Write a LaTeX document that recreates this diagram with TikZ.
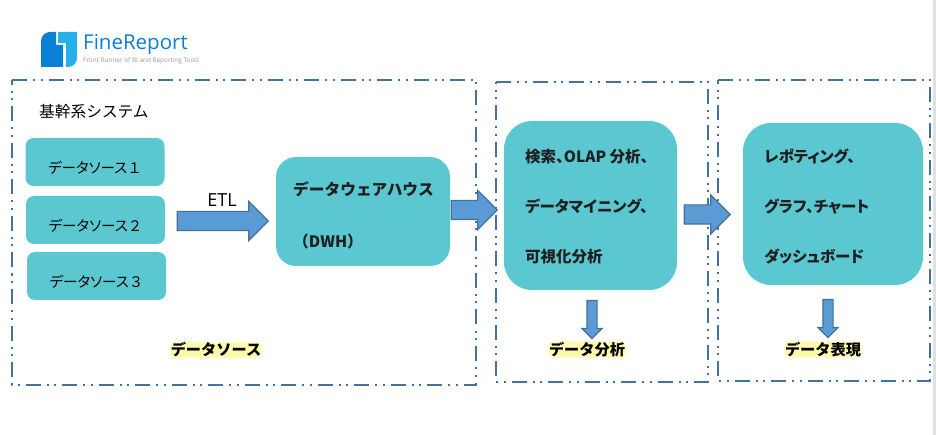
\documentclass[tikz,border=0pt]{standalone}
\usepackage{fontspec}
\setmainfont{Noto Sans CJK JP}
\newfontfamily\latinfont{Open Sans}
\newfontfamily\tightfont[RawFeature=+palt]{Noto Sans CJK JP}
\usetikzlibrary{shapes,arrows,positioning}
\definecolor{boxteal}{RGB}{91,200,209}
\definecolor{arrowblue}{RGB}{91,155,213}
\definecolor{arrowedge}{RGB}{65,113,156}
\definecolor{frameblue}{RGB}{68,114,158}
\definecolor{logodark}{RGB}{10,127,214}
\definecolor{logolight}{RGB}{37,176,234}
\definecolor{glowyellow}{RGB}{255,250,170}
\tikzset{
	areaframe/.style={draw=frameblue, line width=2pt, dash pattern=on 15pt off 6pt on 2pt off 5.5pt on 2pt off 6pt},
	srcbox/.style={fill=boxteal, rounded corners=8pt, minimum width=139pt, minimum height=48pt, inner sep=0pt, text height=24pt, text depth=0pt, font=\tightfont\fontsize{14.5}{17}\selectfont},
	bigbox/.style={fill=boxteal, rounded corners=28pt, inner sep=0pt},
	bigtext/.style={anchor=west, inner sep=0pt, align=left, text=black!88, font=\tightfont\fontsize{15.5}{50}\selectfont\bfseries},
	rightarrow/.style={shape=single arrow, draw=arrowedge, line width=1.2pt, fill=arrowblue, single arrow head extend=10pt, single arrow head indent=0pt, inner xsep=0pt, inner ysep=9pt, minimum height=46pt},
	downarrow/.style={shape=single arrow, shape border rotate=270, draw=arrowedge, line width=1.1pt, fill=arrowblue, single arrow head extend=5pt, inner xsep=0pt, inner ysep=0pt, text width=9pt, minimum height=38pt},
	arealabel/.style={fill=glowyellow, draw=glowyellow!50, line width=1.5pt, rounded corners=5pt, inner sep=0.5pt, font=\fontsize{15.2}{17}\selectfont\bfseries}
}
\begin{document}
\begin{tikzpicture}[x=1pt,y=-1pt]
	\useasboundingbox (0,0) rectangle (936,435);
	\fill[black!12] (933,0) rectangle (936,435);

	% Logo
	\fill[logodark] (41,67) [rounded corners=9pt] -- (41,32) [sharp corners] -- (56,32) -- (56,45) -- (63,45) -- (63,67) -- cycle;
	\fill[logolight] (58,32) -- (77,32) [rounded corners=9pt] -- (77,67) [sharp corners] -- (66,67) -- (66,43) -- (58,43) -- cycle;
	\node[text=logodark, anchor=west, inner sep=0pt, font=\latinfont\fontsize{20.5}{24}\selectfont] (logoname) at (83,44) {FineReport};
	\node[text=black!40, anchor=west, inner sep=0pt, font=\latinfont\fontsize{6.4}{8}\selectfont] (logotag) at (83,60.5) {Front Runner of BI and Reporting Tools};

	% Dashed areas
	\draw[areaframe] (12,80) -- (476,80) -- (476,385) -- (12,385) -- cycle;
	\draw[areaframe] (496,82) -- (708,82) -- (708,382) -- (496,382) -- cycle;
	\draw[areaframe] (718,80) -- (930,80) -- (930,381) -- (718,381) -- cycle;

	% Data sources
	\node[anchor=west, inner sep=0pt, font=\fontsize{15.7}{18}\selectfont] (kikan) at (39,112) {基幹系システム};
	\node[srcbox] (src1) at (95,162) {データソース{\rmfamily １}};
	\node[srcbox] (src2) at (95.5,220) {データソース{\rmfamily ２}};
	\node[srcbox] (src3) at (96.5,276) {データソース{\rmfamily ３}};

	% Main boxes
	\node[bigbox, rounded corners=20pt, minimum width=174pt, minimum height=109pt] (dwh) at (363,211.5) {};
	\node[bigbox, minimum width=173pt, minimum height=169pt] (analysis) at (590.5,205.5) {};
	\node[bigbox, minimum width=180pt, minimum height=162pt] (report) at (833,204) {};
	\node[bigtext, font=\fontsize{15.7}{52}\selectfont\bfseries] (dwhtext) at (293,215) {データウェアハウス\\（DWH）};
	\node[bigtext] (analysistext) at (525,207) {検索、OLAP 分析、\\データマイニング、\\可視化分析};
	\node[bigtext] (reporttext) at (764,207) {レポティング、\\グラフ、チャート\\ダッシュボード};

	% Block arrows
	\node[rightarrow, minimum height=91pt] (etl) at (218,221) {};
	\node[inner sep=0pt, font=\latinfont\fontsize{18}{21}\selectfont] (etllabel) at (222,200) {ETL};
	\node[rightarrow] (toanalysis) at (469.5,210) {};
	\node[rightarrow] (toreport) at (702.5,214.5) {};
	\node[downarrow] (downanalysis) at (592,317) {};
	\node[downarrow] (downreport) at (828,316) {};

	% Area names
	\node[arealabel] (srclabel) at (216,350) {データソース};
	\node[arealabel] (analysislabel) at (587,349.5) {データ分析};
	\node[arealabel] (reportlabel) at (823,349.5) {データ表現};
\end{tikzpicture}
\end{document}
